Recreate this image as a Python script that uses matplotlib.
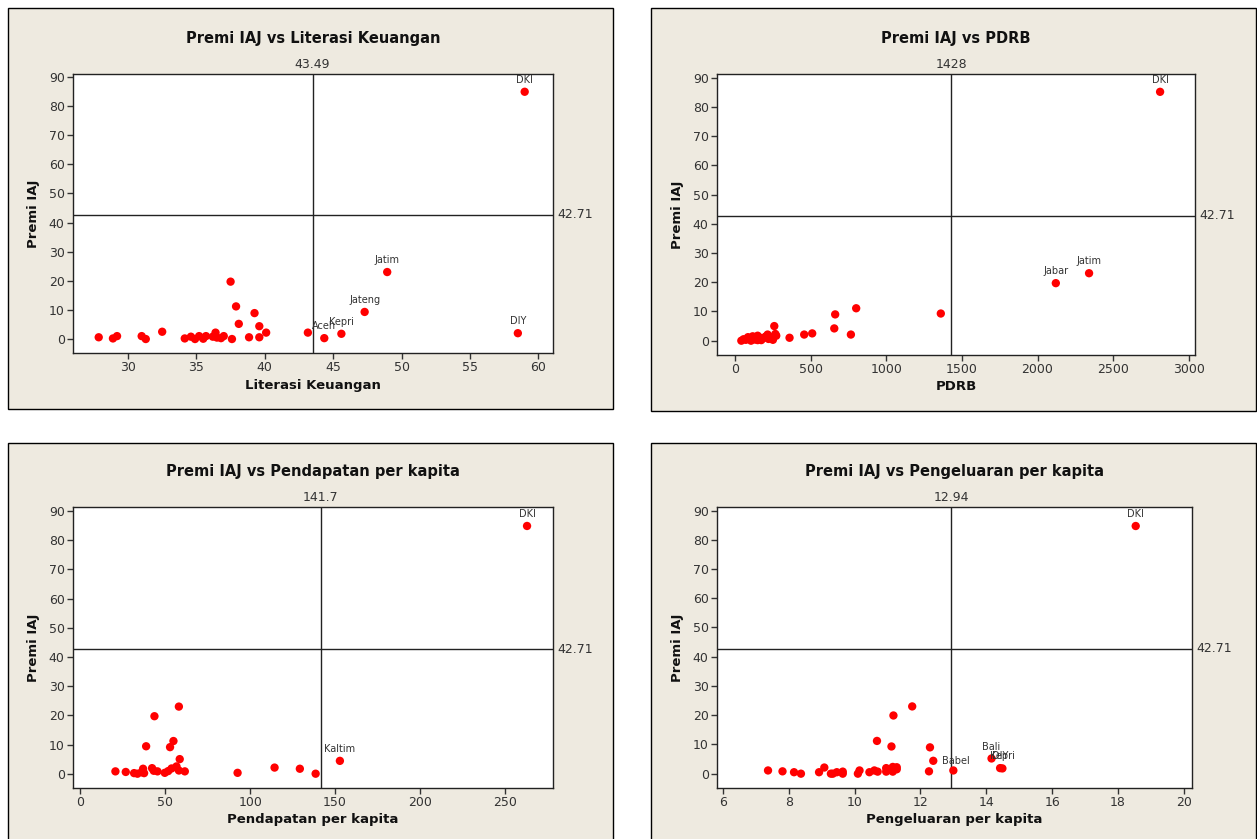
import matplotlib
matplotlib.use("Agg")
import matplotlib.pyplot as plt
from matplotlib.patches import Rectangle

plt.rcParams['font.family'] = ['DejaVu Sans']

# ---------------- data ----------------
href = 42.71

# Panel 1: Literasi Keuangan (last 6 points are labelled)
lit_x = [27.86, 28.9, 29.2, 31.0, 31.3, 32.5, 34.15, 34.6, 34.9, 35.2, 35.5, 35.7,
         36.2, 36.4, 36.5, 36.8, 37.0, 37.5, 37.6, 37.9, 38.1, 38.85, 39.25, 39.6,
         39.6, 40.1, 43.15,
         44.35, 45.6, 47.3, 48.95, 58.5, 59.0]
lit_y = [0.6, 0.2, 1.0, 1.0, 0.0, 2.5, 0.2, 0.8, 0.0, 1.0, 0.1, 1.0,
         0.8, 2.2, 0.5, 0.3, 1.0, 19.7, 0.0, 11.2, 5.2, 0.6, 8.9, 4.4,
         0.6, 2.2, 2.2,
         0.3, 1.8, 9.3, 23.0, 2.0, 84.9]
lit_names = ["Aceh", "Kepri", "Jateng", "Jatim", "DIY", "DKI"]
lit_vref = 43.49
lit_ticks = [30, 35, 40, 45, 50, 55, 60]

# Panel 2: PDRB (last 3 labelled)
pdrb_x = [40, 55, 70, 84, 95, 104, 115, 121, 130, 148, 148, 160, 172, 187, 200,
          214, 220, 235, 249, 258, 265, 271, 359, 456, 509, 655, 661, 765, 800, 1360,
          2121, 2341, 2811]
pdrb_y = [0.0, 0.5, 0.3, 1.2, 0.6, 0.0, 1.5, 0.8, 0.4, 1.7, 0.2, 1.1, 0.2, 0.9, 1.4,
          2.1, 0.6, 1.2, 0.3, 5.0, 2.3, 1.7, 1.0, 2.1, 2.5, 4.2, 9.0, 2.1, 11.1, 9.3,
          19.7, 23.1, 85.2]
pdrb_names = ["Jabar", "Jatim", "DKI"]
pdrb_vref = 1428
pdrb_ticks = [0, 500, 1000, 1500, 2000, 2500, 3000]

# Panel 3: Pendapatan per kapita (last 2 labelled)
pend_x = [20.6, 26.7, 31.6, 33.6, 36.0, 36.9, 37.5, 38.7, 42.2, 43.2, 43.6, 45.4,
          49.7, 51.7, 52.8, 53.7, 54.8, 56.6, 58.0, 58.5, 58.0, 61.5, 92.6, 114.4,
          129.3, 138.6,
          152.9, 263.2]
pend_y = [0.8, 0.6, 0.2, 0.0, 0.5, 1.7, 0.2, 9.4, 1.9, 1.0, 19.7, 0.8,
          0.3, 0.9, 9.1, 1.8, 11.2, 2.5, 23.0, 5.0, 1.1, 0.8, 0.3, 2.1,
          1.7, 0.0,
          4.4, 84.9]
pend_names = ["Kaltim", "DKI"]
pend_vref = 141.7
pend_ticks = [0, 50, 100, 150, 200, 250]

# Panel 4: Pengeluaran per kapita (last 5 labelled)
peng_x = [7.37, 7.81, 8.16, 8.37, 8.92, 9.08, 9.28, 9.34, 9.46, 9.64, 9.64, 10.1,
          10.15, 10.45, 10.6, 10.68, 10.7, 10.96, 10.96, 11.12, 11.16, 11.16, 11.18,
          11.28, 11.28, 11.75, 12.26, 12.29, 13.0,
          12.39, 14.16, 14.42, 14.49, 18.54]
peng_y = [1.1, 0.8, 0.5, 0.0, 0.5, 2.1, 0.0, 0.0, 0.5, 0.7, 0.0, 0.0,
          1.1, 0.5, 1.1, 11.2, 0.7, 1.9, 0.7, 9.3, 2.3, 0.7, 19.9,
          1.5, 2.2, 23.0, 0.8, 9.0, 1.1,
          4.4, 5.2, 1.9, 1.8, 84.7]
peng_names = ["Babel", "Bali", "DIY", "Kepri", "DKI"]
peng_vref = 12.94
peng_ticks = [6, 8, 10, 12, 14, 16, 18, 20]

yticks = [0, 10, 20, 30, 40, 50, 60, 70, 80, 90]

# ---------------- layout ----------------
W, H = 1257, 839
fig = plt.figure(figsize=(W / 100, H / 100), dpi=100)
fig.patch.set_facecolor('white')

BG = '#EEEAE0'
LINE = '#222222'


def frame(l, t, r, b):
    fig.patches.append(Rectangle((l / W, 1 - b / H), (r - l) / W, (b - t) / H,
                                 transform=fig.transFigure, facecolor=BG,
                                 edgecolor='black', linewidth=1.0, zorder=-10))


def axes_px(l, t, r, b):
    ax = fig.add_axes([l / W, 1 - b / H, (r - l) / W, (b - t) / H])
    ax.set_zorder(5)
    return ax


def panel(box, axbox, x, y, names, vref, xticks, xlim, ylim, title, xlabel,
          vlabel, right_names=()):
    frame(*box)
    ax = axes_px(*axbox)
    ax.set_facecolor('white')
    ax.scatter(x, y, s=36, color='#FF0000', edgecolors='none', zorder=3)
    ax.axvline(vref, color=LINE, lw=1.0, zorder=2)
    ax.axhline(href, color=LINE, lw=1.0, zorder=2)
    ax.set_xlim(*xlim)
    ax.set_ylim(*ylim)
    ax.set_xticks(xticks)
    ax.set_yticks(yticks)
    ax.tick_params(direction='out', length=4, width=1, colors='#333333',
                   labelsize=9, top=False, right=False, pad=2)
    for sp in ax.spines.values():
        sp.set_color(LINE)
        sp.set_linewidth(1.0)
    n = len(names)
    for nm, xi, yi in zip(names, x[-n:], y[-n:]):
        if nm in right_names:
            ax.annotate(nm, (xi, yi), xytext=(6, 0), textcoords='offset points',
                        ha='left', va='center', fontsize=7, color='#333333')
        else:
            ax.annotate(nm, (xi, yi), xytext=(0, 5), textcoords='offset points',
                        ha='center', va='bottom', fontsize=7, color='#333333')
    ax.text(vref, 1.01, vlabel, transform=ax.get_xaxis_transform(),
            ha='center', va='bottom', fontsize=9, color='#333333')
    ax.text(1.01, href, f"{href:.2f}", transform=ax.get_yaxis_transform(),
            ha='left', va='center', fontsize=9, color='#333333')
    ax.set_title(title, fontsize=10.5, fontweight='bold', pad=22, color='#111111')
    ax.set_xlabel(xlabel, fontsize=9.5, fontweight='bold', color='#111111', labelpad=3)
    ax.set_ylabel('Premi IAJ', fontsize=9.5, fontweight='bold', color='#111111', labelpad=6)
    return ax


panel((8, 8, 613, 409), (73, 74, 553, 353), lit_x, lit_y, lit_names, lit_vref,
      lit_ticks, (25.98, 61.07), (-4.8, 91.0), 'Premi IAJ vs Literasi Keuangan',
      'Literasi Keuangan', '43.49')
panel((651, 8, 1256, 411), (717, 74, 1195, 355), pdrb_x, pdrb_y, pdrb_names,
      pdrb_vref, pdrb_ticks, (-121, 3042), (-4.9, 91.3), 'Premi IAJ vs PDRB',
      'PDRB', '1428')
panel((8, 443, 613, 840), (73, 507, 553, 788), pend_x, pend_y, pend_names,
      pend_vref, pend_ticks, (-4.4, 278.5), (-4.9, 91.4),
      'Premi IAJ vs Pendapatan per kapita', 'Pendapatan per kapita', '141.7')
panel((651, 443, 1256, 840), (717, 507, 1192, 788), peng_x, peng_y, peng_names,
      peng_vref, peng_ticks, (5.82, 20.25), (-4.9, 91.2),
      'Premi IAJ vs Pengeluaran per kapita', 'Pengeluaran per kapita', '12.94',
      right_names=("Babel",))

fig.savefig('out.png', dpi=100, facecolor=fig.get_facecolor())
